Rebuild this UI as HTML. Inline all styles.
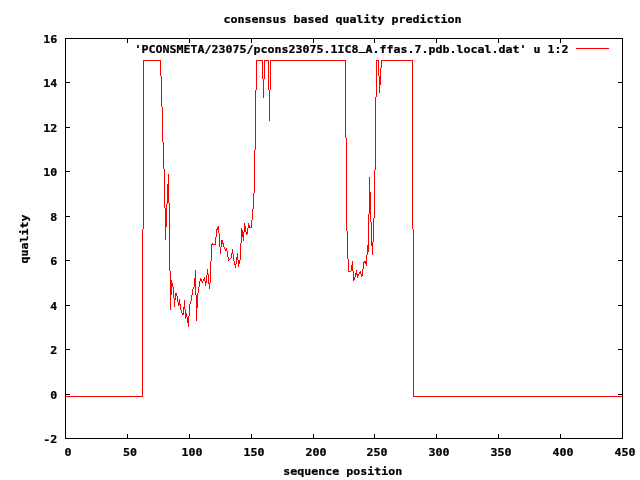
<!DOCTYPE html>
<html><head><meta charset="utf-8"><title>consensus based quality prediction</title>
<style>
html,body{margin:0;padding:0;background:#fff;}
body{width:640px;height:480px;overflow:hidden;}
svg{display:block;}
text{font-family:"DejaVu Sans Mono", "Liberation Mono", monospace;font-weight:bold;font-size:11.0px;fill:#000;stroke:#000;stroke-width:0.25px;}
</style></head><body>
<svg width="640" height="480" viewBox="0 0 640 480">
<rect width="640" height="480" fill="#fff"/>
<path d="M65 38h558v1h-558zM65 438h558v1h-558zM65 38h1v401h-1zM622 38h1v401h-1zM127 434h1v4h-1zM127 39h1v4h-1zM189 434h1v4h-1zM189 39h1v4h-1zM251 434h1v4h-1zM251 39h1v4h-1zM313 434h1v4h-1zM313 39h1v4h-1zM374 434h1v4h-1zM374 39h1v4h-1zM436 434h1v4h-1zM436 39h1v4h-1zM498 434h1v4h-1zM498 39h1v4h-1zM560 434h1v4h-1zM560 39h1v4h-1zM66 394h4v1h-4zM618 394h4v1h-4zM66 349h4v1h-4zM618 349h4v1h-4zM66 305h4v1h-4zM618 305h4v1h-4zM66 260h4v1h-4zM618 260h4v1h-4zM66 216h4v1h-4zM618 216h4v1h-4zM66 171h4v1h-4zM618 171h4v1h-4zM66 127h4v1h-4zM618 127h4v1h-4zM66 82h4v1h-4zM618 82h4v1h-4z" fill="#000" shape-rendering="crispEdges"/>
<path d="M576 48h33v1h-33z" fill="#f00" shape-rendering="crispEdges"/>
<path d="M142 229h1v168h-1zM143 60h1v169h-1zM160 60h1v16h-1zM161 76h1v31h-1zM162 107h1v35h-1zM163 142h1v27h-1zM164 169h1v39h-1zM165 208h1v32h-1zM166 204h1v23h-1zM167 184h1v20h-1zM168 174h1v29h-1zM169 203h1v68h-1zM170 271h1v39h-1zM171 280h1v15h-1zM172 283h1v4h-1zM173 287h1v11h-1zM174 298h1v9h-1zM175 293h1v7h-1zM176 293h1v3h-1zM177 296h1v6h-1zM178 302h1v4h-1zM179 299h1v6h-1zM180 304h1v6h-1zM181 310h1v3h-1zM182 313h1v2h-1zM183 307h1v8h-1zM184 300h1v9h-1zM185 309h1v10h-1zM186 313h1v4h-1zM187 317h1v6h-1zM188 316h1v11h-1zM189 304h1v12h-1zM190 301h1v3h-1zM191 295h1v6h-1zM192 289h1v6h-1zM193 287h1v2h-1zM194 278h1v9h-1zM195 270h1v25h-1zM196 295h1v26h-1zM197 293h1v15h-1zM198 287h1v6h-1zM199 281h1v6h-1zM200 278h1v3h-1zM201 279h1v3h-1zM202 281h1v2h-1zM203 279h1v2h-1zM204 277h1v4h-1zM205 281h1v5h-1zM206 275h1v8h-1zM207 269h1v6h-1zM208 274h1v10h-1zM209 283h1v6h-1zM210 261h1v22h-1zM211 244h1v17h-1zM212 243h1v2h-1zM213 244h1v1h-1zM214 244h1v1h-1zM215 237h1v8h-1zM216 229h1v8h-1zM217 227h1v3h-1zM218 226h1v7h-1zM219 233h1v14h-1zM220 247h1v7h-1zM221 240h1v7h-1zM222 240h1v4h-1zM223 243h1v4h-1zM224 247h1v2h-1zM225 249h1v2h-1zM226 248h1v3h-1zM227 251h1v6h-1zM228 257h1v4h-1zM229 259h1v1h-1zM230 258h1v1h-1zM231 253h1v5h-1zM232 249h1v5h-1zM233 254h1v7h-1zM234 261h1v4h-1zM235 264h1v4h-1zM236 257h1v7h-1zM237 253h1v7h-1zM238 260h1v7h-1zM239 260h1v4h-1zM240 243h1v17h-1zM241 228h1v15h-1zM242 230h1v7h-1zM243 232h1v9h-1zM244 223h1v9h-1zM245 226h1v6h-1zM246 232h1v3h-1zM247 228h1v6h-1zM248 223h1v5h-1zM249 225h1v3h-1zM250 227h1v1h-1zM251 220h1v8h-1zM252 209h1v11h-1zM253 193h1v16h-1zM254 150h1v43h-1zM255 90h1v60h-1zM256 60h1v30h-1zM262 60h1v19h-1zM263 79h1v19h-1zM264 60h1v19h-1zM268 60h1v30h-1zM269 90h1v31h-1zM270 60h1v30h-1zM345 60h1v78h-1zM346 138h1v93h-1zM347 231h1v28h-1zM348 259h1v13h-1zM349 271h1v1h-1zM350 271h1v1h-1zM351 265h1v6h-1zM352 261h1v10h-1zM353 271h1v10h-1zM354 277h1v3h-1zM355 273h1v4h-1zM356 270h1v5h-1zM357 274h1v4h-1zM358 274h1v2h-1zM359 272h1v2h-1zM360 271h1v3h-1zM361 274h1v3h-1zM362 269h1v7h-1zM363 262h1v7h-1zM364 261h1v2h-1zM365 261h1v3h-1zM366 255h1v11h-1zM367 245h1v10h-1zM368 214h1v38h-1zM369 177h1v37h-1zM370 192h1v30h-1zM371 222h1v24h-1zM372 242h1v13h-1zM373 218h1v24h-1zM374 170h1v48h-1zM375 97h1v73h-1zM376 60h1v37h-1zM378 60h1v16h-1zM379 76h1v17h-1zM380 68h1v17h-1zM381 60h1v8h-1zM412 60h1v169h-1zM413 229h1v168h-1zM66 396h76v1h-76zM144 60h16v1h-16zM257 60h5v1h-5zM265 60h3v1h-3zM271 60h74v1h-74zM377 60h1v1h-1zM382 60h30v1h-30zM414 396h208v1h-208z" fill="#f00" shape-rendering="crispEdges"/>
<g>
<text transform="translate(223.5 23) scale(1.0573 1)" textLength="225.107" lengthAdjust="spacing">consensus based quality prediction</text>
<text transform="translate(134.5 53) scale(1.0573 1)" textLength="410.490" lengthAdjust="spacing">'PCONSMETA/23075/pcons23075.1IC8<tspan dy="-2.7">_</tspan><tspan dy="2.7">A</tspan>.ffas.7.pdb.local.dat' u 1:2</text>
<text transform="translate(283.2 475) scale(1.0573 1)" textLength="112.554" lengthAdjust="spacing">sequence position</text>
<text transform="translate(64.6 456) scale(1.0573 1)" textLength="6.621" lengthAdjust="spacing">0</text>
<text transform="translate(123.1 456) scale(1.0573 1)" textLength="13.242" lengthAdjust="spacing">50</text>
<text transform="translate(181.6 456) scale(1.0573 1)" textLength="19.862" lengthAdjust="spacing">100</text>
<text transform="translate(243.6 456) scale(1.0573 1)" textLength="19.862" lengthAdjust="spacing">150</text>
<text transform="translate(305.6 456) scale(1.0573 1)" textLength="19.862" lengthAdjust="spacing">200</text>
<text transform="translate(366.6 456) scale(1.0573 1)" textLength="19.862" lengthAdjust="spacing">250</text>
<text transform="translate(428.6 456) scale(1.0573 1)" textLength="19.862" lengthAdjust="spacing">300</text>
<text transform="translate(490.6 456) scale(1.0573 1)" textLength="19.862" lengthAdjust="spacing">350</text>
<text transform="translate(552.6 456) scale(1.0573 1)" textLength="19.862" lengthAdjust="spacing">400</text>
<text transform="translate(614.6 456) scale(1.0573 1)" textLength="19.862" lengthAdjust="spacing">450</text>
<text transform="translate(43.3 443) scale(1.0573 1)" textLength="13.242" lengthAdjust="spacing">-2</text>
<text transform="translate(50.3 399) scale(1.0573 1)" textLength="6.621" lengthAdjust="spacing">0</text>
<text transform="translate(50.3 354) scale(1.0573 1)" textLength="6.621" lengthAdjust="spacing">2</text>
<text transform="translate(50.3 310) scale(1.0573 1)" textLength="6.621" lengthAdjust="spacing">4</text>
<text transform="translate(50.3 265) scale(1.0573 1)" textLength="6.621" lengthAdjust="spacing">6</text>
<text transform="translate(50.3 221) scale(1.0573 1)" textLength="6.621" lengthAdjust="spacing">8</text>
<text transform="translate(43.3 176) scale(1.0573 1)" textLength="13.242" lengthAdjust="spacing">10</text>
<text transform="translate(43.3 132) scale(1.0573 1)" textLength="13.242" lengthAdjust="spacing">12</text>
<text transform="translate(43.3 87) scale(1.0573 1)" textLength="13.242" lengthAdjust="spacing">14</text>
<text transform="translate(43.3 43) scale(1.0573 1)" textLength="13.242" lengthAdjust="spacing">16</text>
<text transform="translate(27.5 263.5) rotate(-90) scale(1.0573 1)" textLength="46.346" lengthAdjust="spacing">quality</text>
</g>
</svg>
</body></html>
